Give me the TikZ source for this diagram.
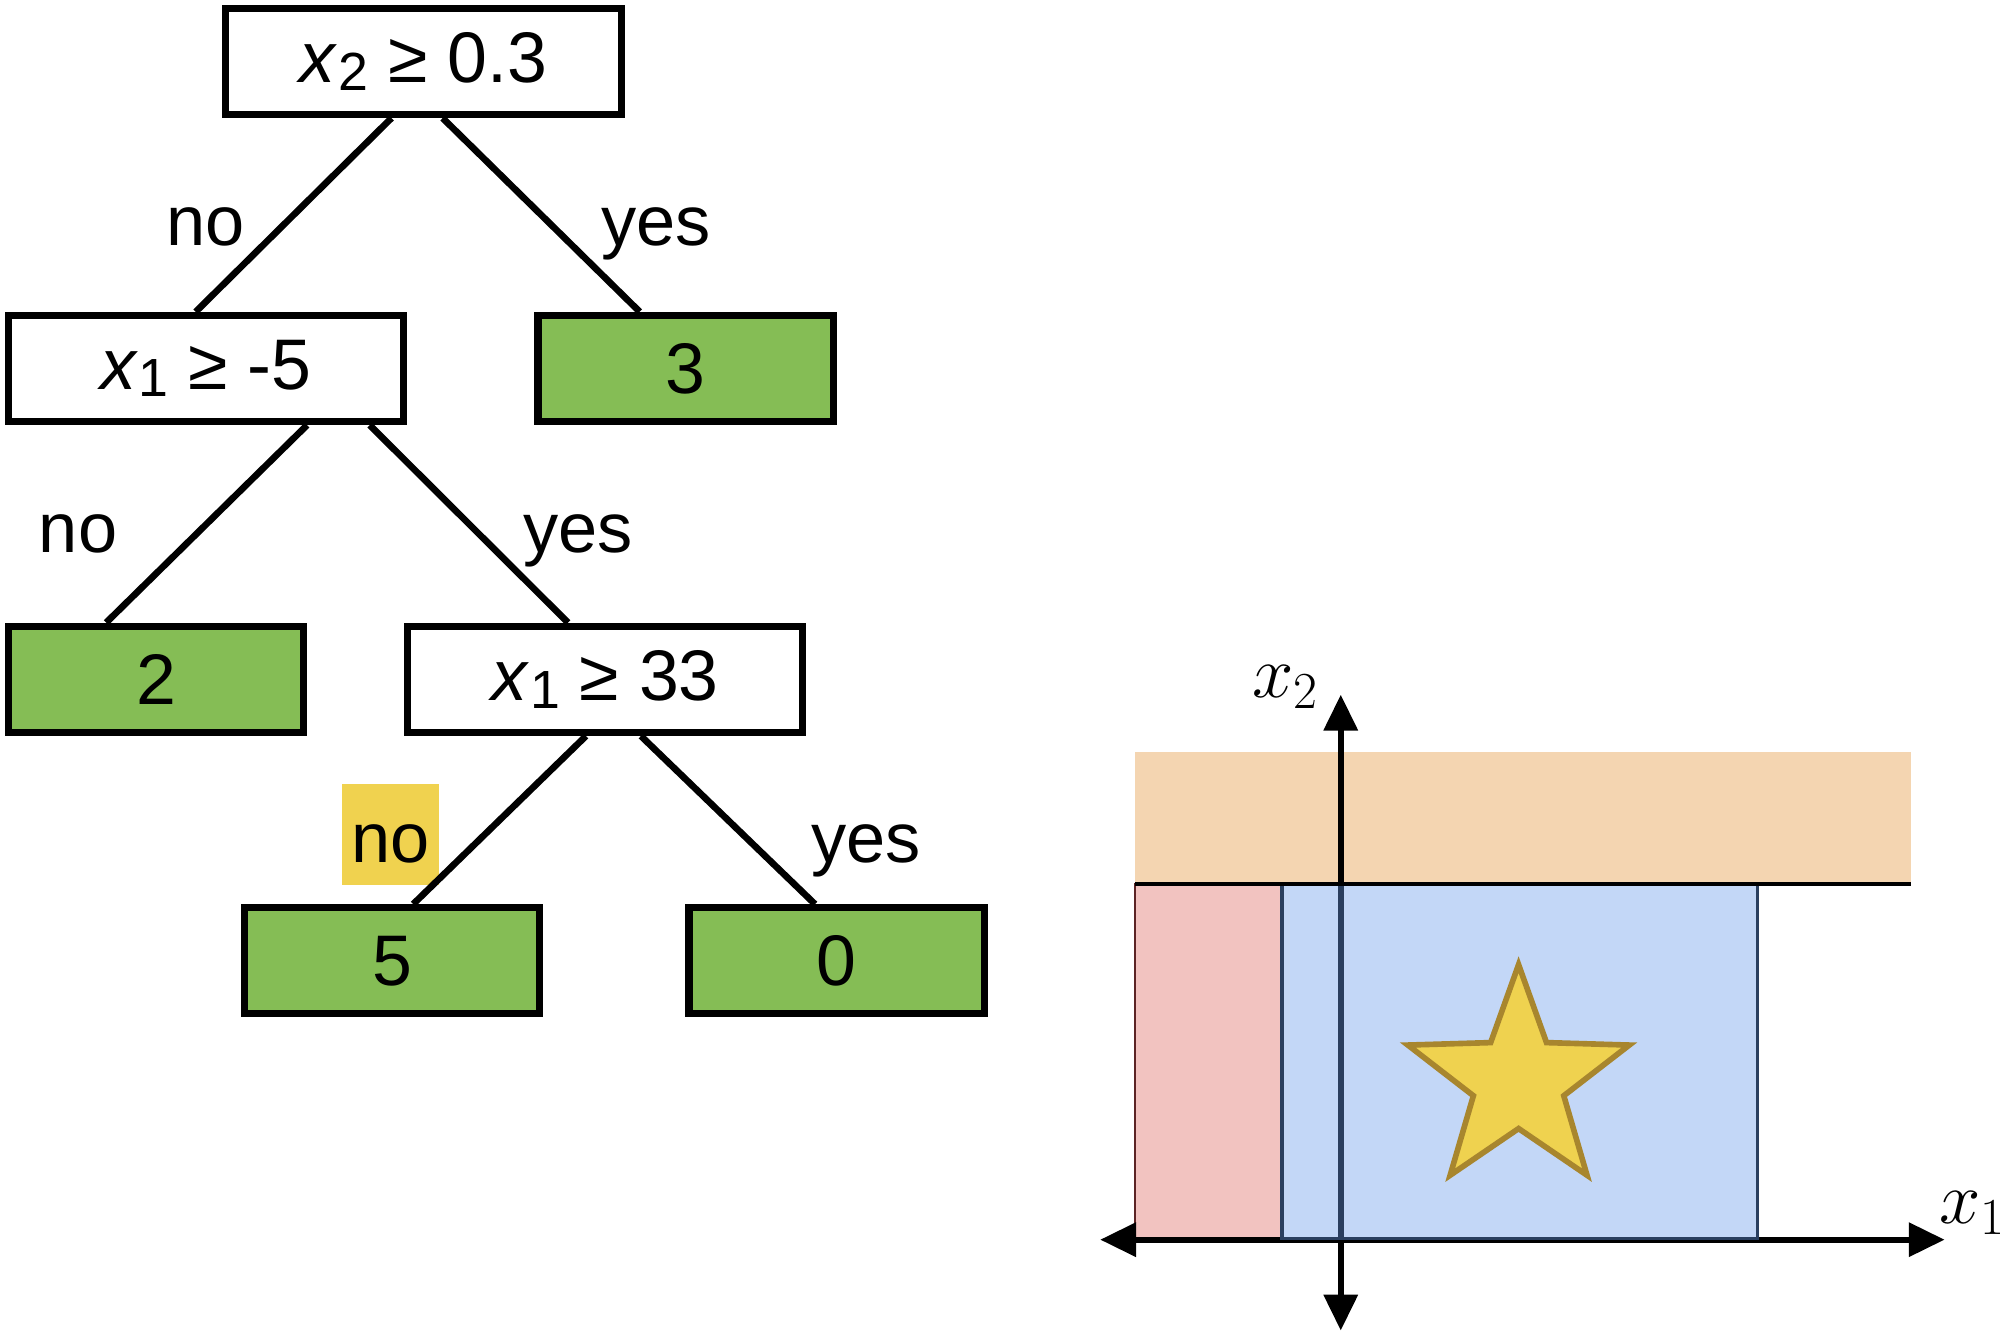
\RequirePackage{fix-cm}
\documentclass[tikz,border=0pt]{standalone}
\usepackage{fontspec}
\setmainfont{Liberation Sans}
\usetikzlibrary{arrows.meta,calc,shapes.geometric}
\definecolor{leafgreen}{HTML}{85BD55}
\definecolor{hlyellow}{HTML}{F0D24F}
\definecolor{regorange}{HTML}{F4D5B1}
\definecolor{regpink}{HTML}{F2C3C0}
\definecolor{regblue}{HTML}{699DED}
\definecolor{bluebord}{HTML}{2A3F5F}
\definecolor{redbord}{HTML}{5C2424}
\definecolor{staryellow}{HTML}{EFD24F}
\definecolor{starbrown}{HTML}{A8862E}
\newcommand{\myvarx}[1]{\textit{x}\kern0.01em\raisebox{-0.2ex}{\fontsize{21}{23}\selectfont #1}}
\begin{document}
\begin{tikzpicture}[x=0.5pt,y=-0.5pt,
  splitbox/.style={draw=black, line width=2.8pt, fill=white, minimum width=154.5pt, minimum height=41.5pt, inner sep=0pt, font=\fontsize{28}{32}\selectfont},
  leafbox/.style={splitbox, fill=leafgreen, minimum width=115.5pt},
  edgeline/.style={line width=2.6pt},
  lbl/.style={font=\fontsize{27.5}{32}\selectfont, anchor=base, inner sep=0pt},
  axline/.style={line width=2.3pt, {Triangle[length=14pt,width=13pt]}-{Triangle[length=14pt,width=13pt]}},
  axlbl/.style={font=\fontsize{29}{34}\selectfont, inner sep=0pt}]
% canvas
\path[use as bounding box, fill=white] (0,0) rectangle (1568,1042.7);
% highlight behind the "no"
\node[fill=hlyellow, minimum width=38pt, minimum height=39.5pt, inner sep=0pt] (hl) at (305,652.5) {};
% tree nodes
\node[splitbox] (root) at (331,48) {\myvarx{2} ≥ 0.3};
\node[splitbox] (n1) at (161,288) {\myvarx{1} ≥ -5};
\node[leafbox] (l3) at (536,288) {3};
\node[leafbox] (l2) at (122,531) {2};
\node[splitbox] (n2) at (473,531) {\myvarx{1} ≥ 33};
\node[leafbox] (l5) at (306.5,751) {5};
\node[leafbox] (l0) at (654,751) {0};
% connectors
\draw[edgeline] ($(root.south)+(-25,0)$) -- ($(n1.north)+(-8,0)$);
\draw[edgeline] ($(root.south)+(15,0)$) -- ($(l3.north)+(-36,0)$);
\draw[edgeline] ($(n1.south)+(79,0)$) -- ($(l2.north)+(-39,0)$);
\draw[edgeline] ($(n1.south)+(128,0)$) -- ($(n2.north)+(-29,0)$);
\draw[edgeline] ($(n2.south)+(-15,0)$) -- ($(l5.north)+(16.5,0)$);
\draw[edgeline] ($(n2.south)+(28,0)$) -- ($(l0.north)+(-17,0)$);
% edge labels
\node[lbl] (e1) at (161,192) {no};
\node[lbl] (e2) at (513,192) {yes};
\node[lbl] (e3) at (61,432) {no};
\node[lbl] (e4) at (452,432) {yes};
\node[lbl] (e5) at (305,674) {no};
\node[lbl] (e6) at (677,674) {yes};
% plot regions
\fill[regorange] (887,588) rectangle (1494,691);
\draw[fill=regpink, draw=redbord, line width=1pt] (887,691) rectangle (1002,968);
% axes
\coordinate (xl) at (860,969);
\coordinate (xr) at (1520,969);
\coordinate (yt) at (1048,543);
\coordinate (yb) at (1048,1040);
\draw[axline] (xl) -- (xr);
\draw[axline] (yb) -- (yt);
% blue region (translucent over the axis)
\fill[regblue, fill opacity=0.4] (1002,691) rectangle (1374,968);
\draw[bluebord, line width=1.3pt] (1002,691) rectangle (1374,968);
\draw[line width=1.6pt] (887,691) -- (1494,691);
% star
\node[star, star points=5, star point ratio=2.45, minimum size=91pt, inner sep=0pt, fill=staryellow, draw=starbrown, line width=2.2pt] (star) at (1187,845) {};
% axis labels
\node[axlbl] (x2lbl) at (1005,537) {$x_2$};
\node[axlbl] (x1lbl) at (1542,948) {$x_1$};
\end{tikzpicture}
\end{document}
